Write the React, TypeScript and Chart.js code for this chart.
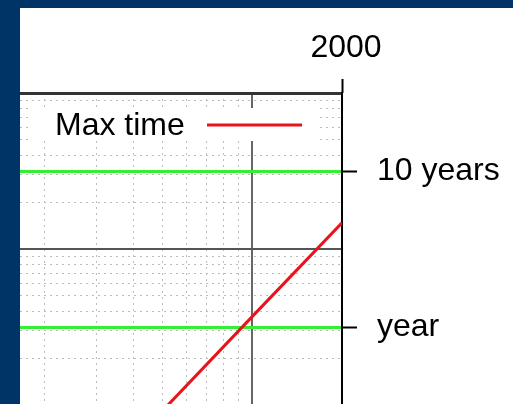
import React, { useEffect, useRef } from 'react';
import { Chart, registerables } from 'chart.js';

Chart.register(...registerables);

const FONT = "'Liberation Sans', Arial, Helvetica, sans-serif";

// Series: maximum time (seconds) versus year (log-log)
const SERIES_LABEL = 'Max time';
const X_YEARS = [400, 1000, 2000];
const MAX_TIME_SECONDS = [5.9e6, 3.7e7, 1.47e8];

// Axis ranges (visible window)
const X_MIN = 165.6;
const X_MAX = 2000;
const Y_MIN = 1.015e7;
const Y_MAX = 1e9;

// Tick labels
const X_TOP_TICKS = [2000];
const X_TOP_LABELS = ['2000'];
const YEAR_SECONDS = 31557600;
const Y_TICKS = [YEAR_SECONDS, 10 * YEAR_SECONDS];
const Y_LABELS = ['year', '10 years'];

// Grid lines (log decades and sub-decades)
const X_GRID = [200, 300, 400, 500, 600, 700, 800, 900, 1000];
const Y_GRID = [
  2e7, 3e7, 4e7, 5e7, 6e7, 7e7, 8e7, 9e7, 1e8,
  2e8, 3e8, 4e8, 5e8, 6e8, 7e8, 8e8, 9e8, 1e9,
];

const isDecade = (v: number) => {
  const l = Math.log10(v);
  return Math.abs(l - Math.round(l)) < 1e-9;
};

const zeroPadding = (s: any) => {
  s.paddingTop = 0;
  s.paddingBottom = 0;
  s.paddingLeft = 0;
  s.paddingRight = 0;
};

const insideLegend = {
  id: 'insideLegend',
  afterDatasetsDraw(chart: any) {
    const { ctx, chartArea } = chart;
    const ds = chart.data.datasets[0];
    const L = chartArea.left;
    const T = chartArea.top;
    ctx.save();
    ctx.fillStyle = '#ffffff';
    ctx.fillRect(L + 10, T + 15, 290, 33);
    ctx.fillStyle = '#000000';
    ctx.font = `32px ${FONT}`;
    ctx.textBaseline = 'alphabetic';
    ctx.textAlign = 'left';
    ctx.fillText(ds.label, L + 35, T + 42);
    ctx.strokeStyle = ds.borderColor;
    ctx.lineWidth = 3;
    ctx.beginPath();
    ctx.moveTo(L + 187, T + 32);
    ctx.lineTo(L + 282, T + 32);
    ctx.stroke();
    ctx.restore();
  },
};

export default function App() {
  const ref = useRef<HTMLCanvasElement | null>(null);

  useEffect(() => {
    if (!ref.current) return;
    Chart.defaults.font.family = FONT;
    const minorColor = '#bcbcbc';
    const majorColor = '#666666';
    const chart = new Chart(ref.current, {
      type: 'line',
      data: {
        datasets: [
          {
            label: SERIES_LABEL,
            data: X_YEARS.map((x, i) => ({ x, y: MAX_TIME_SECONDS[i] })),
            borderColor: '#e8141c',
            borderWidth: 3,
            pointRadius: 0,
            fill: false,
            tension: 0,
            xAxisID: 'x',
            yAxisID: 'y',
          },
        ],
      },
      options: {
        animation: false,
        responsive: false,
        layout: { padding: 0 },
        plugins: {
          legend: { display: false },
          tooltip: { enabled: false },
        },
        scales: {
          xg: {
            type: 'logarithmic',
            axis: 'x',
            position: 'top',
            min: X_MIN,
            max: X_MAX,
            afterBuildTicks: (s: any) => {
              s.ticks = X_GRID.map((v) => ({ value: v }));
            },
            afterFit: zeroPadding,
            ticks: { display: false },
            grid: {
              drawTicks: false,
              color: (c: any) => (c.tick && isDecade(c.tick.value) ? majorColor : minorColor),
              lineWidth: (c: any) => (c.tick && isDecade(c.tick.value) ? 2 : 1),
            },
            border: {
              display: false,
              dash: (c: any) => (c.tick && !isDecade(c.tick.value) ? [2, 4] : []),
            },
          },
          yg: {
            type: 'logarithmic',
            axis: 'y',
            position: 'left',
            min: Y_MIN,
            max: Y_MAX,
            afterBuildTicks: (s: any) => {
              s.ticks = Y_GRID.map((v) => ({ value: v }));
            },
            afterFit: zeroPadding,
            ticks: { display: false },
            grid: {
              drawTicks: false,
              color: (c: any) =>
                c.tick && isDecade(c.tick.value)
                  ? c.tick.value === Y_MAX
                    ? '#333333'
                    : '#555555'
                  : minorColor,
              lineWidth: (c: any) =>
                c.tick && isDecade(c.tick.value) ? (c.tick.value === Y_MAX ? 3 : 2) : 1,
            },
            border: {
              display: false,
              dash: (c: any) => (c.tick && !isDecade(c.tick.value) ? [2, 4] : []),
            },
          },
          x: {
            type: 'logarithmic',
            axis: 'x',
            position: 'top',
            min: X_MIN,
            max: X_MAX,
            afterBuildTicks: (s: any) => {
              s.ticks = X_TOP_TICKS.map((v) => ({ value: v }));
            },
            afterFit: (s: any) => {
              zeroPadding(s);
              s.height = 85;
            },
            ticks: {
              callback: (_v: any, i: number) => X_TOP_LABELS[i],
              font: { family: FONT, size: 32 },
              color: '#000000',
              padding: 12,
              labelOffset: 4,
              autoSkip: false,
              maxRotation: 0,
            },
            grid: {
              drawOnChartArea: false,
              drawTicks: true,
              tickLength: 14,
              tickColor: '#000000',
              tickWidth: 2,
              color: '#000000',
            },
            border: { display: false },
          },
          y: {
            type: 'logarithmic',
            axis: 'y',
            position: 'right',
            min: Y_MIN,
            max: Y_MAX,
            afterBuildTicks: (s: any) => {
              s.ticks = Y_TICKS.map((v) => ({ value: v }));
            },
            afterFit: (s: any) => {
              zeroPadding(s);
              s.width = 171;
            },
            ticks: {
              callback: (_v: any, i: number) => Y_LABELS[i],
              font: { family: FONT, size: 32 },
              color: '#000000',
              padding: 20,
              autoSkip: false,
            },
            grid: {
              z: -0.5,
              color: '#33ee33',
              lineWidth: 3,
              tickColor: '#000000',
              tickWidth: 2,
              tickLength: 15,
            },
            border: { display: true, color: '#000000', width: 2 },
          },
        },
      } as any,
      plugins: [insideLegend],
    });
    return () => chart.destroy();
  }, []);

  return (
    <div
      style={{
        position: 'fixed',
        left: 0,
        top: 0,
        width: 513,
        height: 404,
        background: '#003366',
        overflow: 'hidden',
      }}
    >
      <div
        style={{
          position: 'absolute',
          left: 20,
          top: 8,
          width: 493,
          height: 396,
          background: '#ffffff',
        }}
      >
        <canvas ref={ref} width={493} height={396} style={{ display: 'block' }} />
      </div>
    </div>
  );
}
